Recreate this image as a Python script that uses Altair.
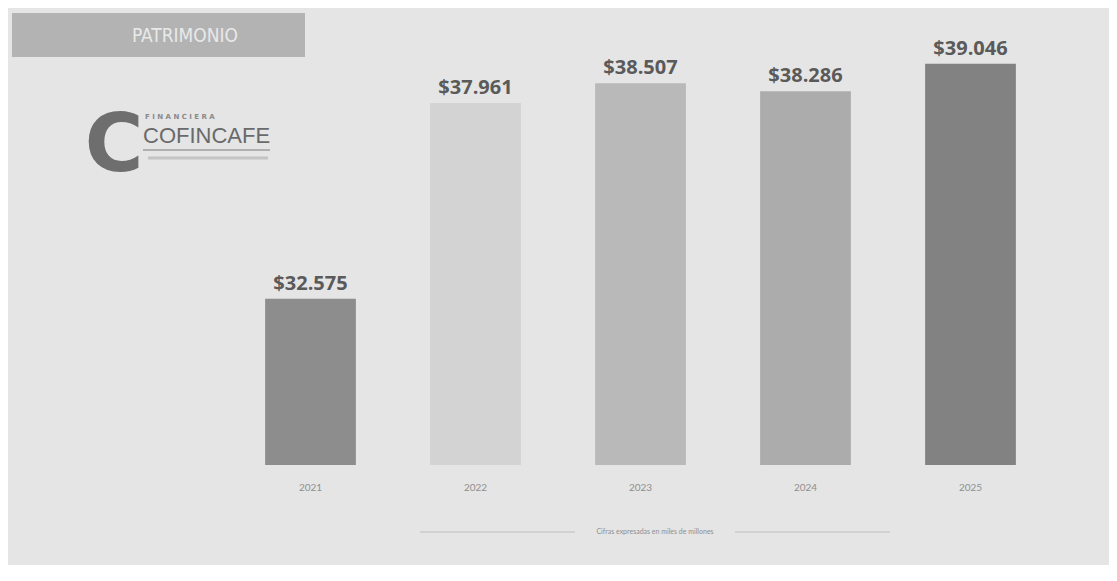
import altair as alt
import pandas as pd

years = ["2021", "2022", "2023", "2024", "2025"]
values = [32575, 37961, 38507, 38286, 39046]
colors = ["#8d8d8d", "#d3d3d3", "#b9b9b9", "#acacac", "#828282"]
title_text = "PATRIMONIO"
footnote = "Cifras expresadas en miles de millones"

df = pd.DataFrame({"year": years, "value": values, "color": colors})
df["label"] = ["$" + f"{v:,}".replace(",", ".") for v in values]

x = alt.X("year:N", sort=years, title=None,
          scale=alt.Scale(paddingInner=0.45, paddingOuter=0.225),
          axis=alt.Axis(labelAngle=0, domain=False, ticks=False, labelPadding=17,
                        labelFont="Lato", labelFontSize=10, labelColor="#8f8f8f"))
y = alt.Y("value:Q", title=None, scale=alt.Scale(domain=[28000, 40000], nice=False, zero=False),
          axis=None)

base = alt.Chart(df)
bars = base.mark_bar(clip=True).encode(x=x, y=y, y2=alt.datum(28000),
                                      color=alt.Color("color:N", scale=None))
labels = base.mark_text(baseline="bottom", dy=-5, font="Open Sans", fontWeight="bold",
                        fontSize=20, color="#5a5a5a").encode(x=x, y=y, text="label:N")

# decorations (page chrome)
one = pd.DataFrame({"k": [0]})
banner = alt.Chart(one).mark_rect(color="#b3b3b3").encode(
    x=alt.value(-216), x2=alt.value(77), y=alt.value(-16), y2=alt.value(28))
banner_txt = alt.Chart(one).mark_text(font="DejaVu Sans Condensed", fontSize=19,
                                      color="#e9e9e9", align="center", baseline="middle").encode(
    x=alt.value(-43), y=alt.value(7), text=alt.value(title_text))
logo_c = alt.Chart(one).mark_text(font="DejaVu Sans", fontWeight="bold", fontSize=80,
                                  color="#6e6e6e", align="center", baseline="middle").encode(
    x=alt.value(-114), y=alt.value(118), text=alt.value("C"))
logo_fin = alt.Chart(one).mark_text(font="DejaVu Sans", fontWeight="bold", fontSize=7,
                                    color="#8a8a8a", align="left", baseline="middle").encode(
    x=alt.value(-83), y=alt.value(88),
    text=alt.value("F    I    N    A    N    C    I    E    R    A"))
logo_name = alt.Chart(one).mark_text(font="Liberation Sans", fontSize=22, color="#6a6a6a",
                                     align="left", baseline="middle").encode(
    x=alt.value(-85), y=alt.value(107), text=alt.value("COFINCAFE"))
logo_sub = alt.Chart(one).mark_rule(color="#b0b0b0", strokeWidth=2).encode(
    x=alt.value(-85), x2=alt.value(42), y=alt.value(121))
logo_sub2 = alt.Chart(one).mark_rule(color="#c4c4c4", strokeWidth=3).encode(
    x=alt.value(-80), x2=alt.value(40), y=alt.value(129))
foot_l = alt.Chart(one).mark_rule(color="#bdbdbd", strokeWidth=1).encode(
    x=alt.value(192), x2=alt.value(347), y=alt.value(503))
foot_r = alt.Chart(one).mark_rule(color="#bdbdbd", strokeWidth=1).encode(
    x=alt.value(507), x2=alt.value(662), y=alt.value(503))
foot_t = alt.Chart(one).mark_text(font="Lato", fontSize=7, color="#8f8f8f",
                                  align="center", baseline="middle").encode(
    x=alt.value(427), y=alt.value(503), text=alt.value(footnote))

chart = alt.layer(bars, labels, banner, banner_txt, logo_c, logo_fin, logo_name,
                  logo_sub, logo_sub2, foot_l, foot_r, foot_t).properties(
    width=825, height=436,
    padding={"left": 220, "top": 21, "right": 56, "bottom": 100},
    autosize=alt.AutoSizeParams(type="none"),
    background="#e5e5e5",
).configure_view(stroke=None)

chart.save("out.html", embed_options={"renderer": "svg", "actions": False})
